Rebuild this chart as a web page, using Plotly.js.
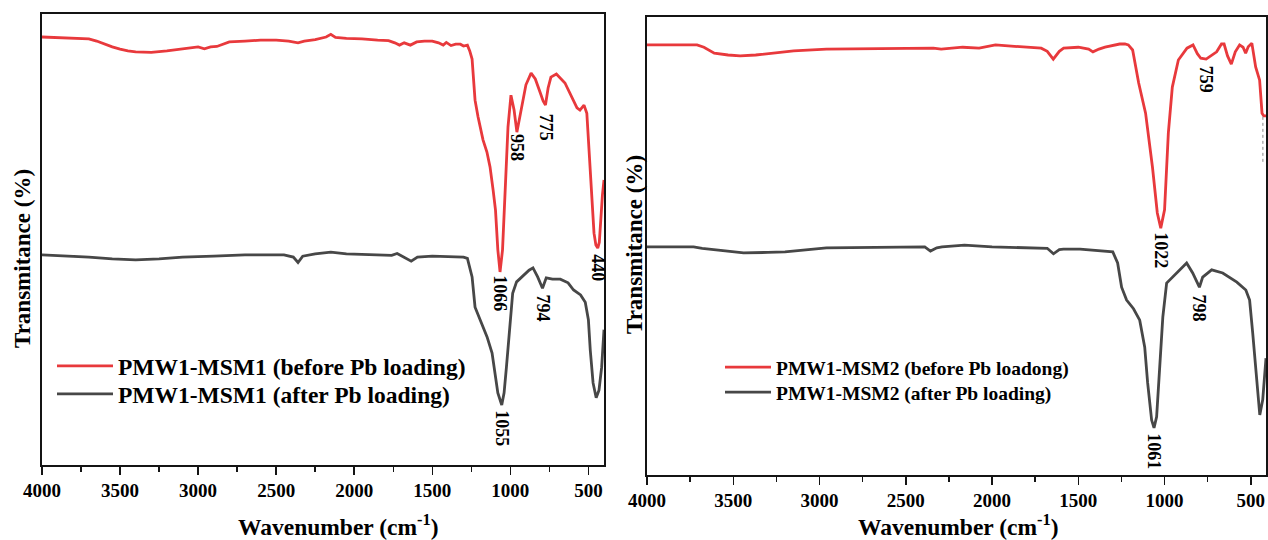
<!DOCTYPE html>
<html>
<head>
<meta charset="utf-8">
<script src="https://cdn.plot.ly/plotly-3.0.1.min.js"></script>
<style>
  html, body { margin: 0; padding: 0; background: #ffffff; }
  #chart { width: 1268px; height: 540px; }
</style>
</head>
<body>
<div id="chart"></div>
<script>
// FTIR spectra, wavenumber (cm-1) vs transmittance (%), two samples before/after Pb loading

// ---- PMW1-MSM1 ----
const wnMsm1Before = [4000, 3900, 3800, 3700, 3650, 3600, 3550, 3500, 3450, 3400, 3300, 3200, 3100, 3000, 2960, 2920, 2880, 2800, 2700, 2600, 2500, 2420, 2360, 2320, 2250, 2180, 2150, 2120, 2050, 1950, 1850, 1780, 1740, 1710, 1680, 1640, 1600, 1550, 1500, 1460, 1430, 1410, 1380, 1350, 1320, 1300, 1275, 1260, 1245, 1235, 1226, 1207, 1175, 1150, 1130, 1110, 1095, 1080, 1066, 1050, 1035, 1015, 996, 976, 958, 940, 925, 900, 867, 840, 810, 790, 775, 758, 740, 705, 650, 605, 573, 554, 528, 510, 496, 477, 464, 452, 440, 430, 419, 410, 400];
const tMsm1Before = [94.9, 94.8, 94.7, 94.5, 94.0, 93.3, 92.7, 92.2, 91.8, 91.6, 91.5, 91.8, 92.2, 92.7, 92.3, 92.7, 92.8, 93.8, 94.0, 94.2, 94.2, 94.0, 93.6, 94.0, 94.3, 94.9, 95.5, 94.8, 94.6, 94.5, 94.2, 94.1, 93.6, 93.1, 93.6, 93.1, 93.8, 94.0, 94.0, 93.6, 93.1, 93.7, 93.0, 93.3, 93.3, 92.9, 93.1, 91.8, 90.0, 85.5, 80.9, 77.2, 72.1, 69.4, 66.1, 60.9, 56.5, 47.7, 42.8, 47.7, 58.8, 74.9, 82.0, 78.7, 73.8, 76.9, 79.8, 84.3, 86.9, 85.6, 82.7, 80.7, 79.8, 83.6, 86.0, 86.7, 84.7, 81.6, 79.2, 78.7, 79.8, 78.0, 69.8, 58.8, 51.4, 48.8, 48.1, 49.4, 55.9, 59.9, 63.2];

const wnMsm1After = [4000, 3850, 3700, 3550, 3400, 3250, 3100, 2900, 2700, 2450, 2390, 2360, 2330, 2250, 2150, 2050, 1900, 1760, 1725, 1680, 1635, 1595, 1500, 1400, 1300, 1275, 1260, 1245, 1226, 1194, 1149, 1117, 1098, 1080, 1055, 1040, 1025, 1005, 985, 960, 910, 880, 855, 825, 794, 770, 730, 680, 630, 595, 550, 520, 500, 488, 470, 450, 432, 415, 400];
const tMsm1After = [46.6, 46.4, 46.1, 45.7, 45.5, 45.7, 46.1, 46.3, 46.6, 46.6, 46.1, 44.9, 46.3, 46.8, 47.2, 46.8, 46.6, 46.5, 46.9, 46.1, 45.2, 46.1, 46.3, 46.2, 46.1, 45.8, 43.5, 41.7, 35.0, 32.2, 28.4, 24.8, 20.4, 16.0, 13.3, 16.0, 21.7, 29.3, 38.1, 40.6, 42.1, 43.2, 43.7, 41.7, 39.2, 41.5, 41.2, 41.2, 40.4, 38.8, 37.7, 36.1, 32.2, 25.5, 18.2, 14.9, 16.6, 21.7, 30.0];

// ---- PMW1-MSM2 ----
const wnMsm2Before = [4000, 3710, 3670, 3610, 3530, 3460, 3370, 3150, 2960, 2600, 2340, 2295, 2170, 2075, 1980, 1870, 1765, 1715, 1680, 1645, 1610, 1585, 1500, 1440, 1415, 1380, 1345, 1260, 1230, 1210, 1185, 1150, 1110, 1070, 1042, 1022, 1000, 978, 955, 920, 870, 835, 810, 790, 759, 735, 715, 698, 670, 655, 635, 613, 590, 565, 545, 530, 515, 500, 494, 472, 449, 435, 425, 412];
const tMsm2Before = [93.9, 93.9, 93.4, 92.1, 91.7, 91.5, 91.7, 92.6, 93.0, 93.2, 93.2, 93.0, 93.4, 93.2, 93.9, 93.6, 93.4, 93.2, 92.5, 90.8, 92.5, 93.2, 93.4, 93.0, 92.4, 93.0, 93.4, 94.1, 94.1, 93.9, 92.8, 85.6, 79.0, 67.2, 57.2, 53.9, 57.9, 74.7, 84.7, 90.6, 93.2, 93.9, 92.0, 91.0, 90.8, 91.5, 92.0, 92.4, 94.1, 94.1, 91.5, 89.7, 92.4, 93.9, 93.4, 92.1, 93.5, 94.1, 94.3, 89.1, 86.2, 79.0, 78.4, 78.4];

const wnMsm2After = [4000, 3730, 3680, 3580, 3440, 3300, 3200, 2960, 2600, 2390, 2357, 2320, 2290, 2160, 2000, 1765, 1680, 1644, 1610, 1586, 1490, 1300, 1272, 1249, 1220, 1180, 1144, 1115, 1098, 1075, 1061, 1046, 1028, 1010, 988, 930, 872, 837, 798, 779, 727, 663, 581, 529, 507, 489, 465, 448, 431, 412];
const tMsm2After = [49.8, 49.8, 49.5, 49.1, 48.5, 48.6, 48.7, 49.6, 49.8, 49.8, 48.9, 49.6, 49.8, 50.2, 49.8, 49.6, 49.5, 48.3, 49.2, 49.3, 49.3, 48.7, 46.3, 41.0, 38.2, 36.3, 33.8, 27.9, 20.1, 12.0, 10.3, 12.7, 23.6, 34.5, 41.9, 44.1, 46.3, 44.1, 41.0, 43.2, 44.8, 44.1, 42.1, 40.4, 38.2, 31.0, 20.1, 13.1, 16.4, 25.5];

// short dotted guide at the right end of the MSM2 panel
const wnGuide = [430, 430];
const tGuide = [78.2, 68.3];

// peak labels: [wavenumber, label y position]
const peaksMsm1 = [
  { wn: 958, y: 70.3 }, { wn: 775, y: 74.9 }, { wn: 1066, y: 38.1 },
  { wn: 440, y: 43.7 }, { wn: 794, y: 34.8 }, { wn: 1055, y: 8.2 }
];
const peaksMsm2 = [
  { wn: 759, y: 86.5 }, { wn: 1022, y: 49.1 }, { wn: 798, y: 36.5 }, { wn: 1061, y: 5.2 }
];

const tickVals = [4000, 3500, 3000, 2500, 2000, 1500, 1000, 500];
const tickText = ['4000', '3500', '3000', '2500', '2000', '1500', '1000', '500'];

const RED = '#e8393c';
const GRAY = '#474747';
const INK = '#141414';
const SERIF = 'Liberation Serif, Times New Roman, serif';

const W = 1268, H = 540;
const px = v => v / W;
const py = v => 1 - v / H;

const traces = [
  { x: wnMsm1Before, y: tMsm1Before, xaxis: 'x', yaxis: 'y', mode: 'lines',
    name: 'PMW1-MSM1 (before Pb loading)', line: { color: RED, width: 2.8 }, legend: 'legend' },
  { x: wnMsm1After, y: tMsm1After, xaxis: 'x', yaxis: 'y', mode: 'lines',
    name: 'PMW1-MSM1 (after Pb loading)', line: { color: GRAY, width: 2.8 }, legend: 'legend3' },
  { x: wnMsm2Before, y: tMsm2Before, xaxis: 'x2', yaxis: 'y2', mode: 'lines',
    name: 'PMW1-MSM2 (before Pb loadong)', line: { color: RED, width: 2.8 }, legend: 'legend2' },
  { x: wnMsm2After, y: tMsm2After, xaxis: 'x2', yaxis: 'y2', mode: 'lines',
    name: 'PMW1-MSM2 (after Pb loading)', line: { color: GRAY, width: 2.8 }, legend: 'legend4' },
  { x: wnGuide, y: tGuide, xaxis: 'x2', yaxis: 'y2', mode: 'lines', showlegend: false,
    line: { color: '#888888', width: 1, dash: 'dot' }, hoverinfo: 'skip' }
];

function xAxis(domain, range, anchor) {
  return {
    domain: domain, range: range, anchor: anchor, autorange: false,
    showline: true, mirror: true, linecolor: INK, linewidth: 1.6,
    ticks: 'outside', ticklen: 8, tickwidth: 1.5, tickcolor: INK,
    tickmode: 'array', tickvals: tickVals, ticktext: tickText,
    minor: { tickmode: 'linear', tick0: 0, dtick: 250, ticks: 'outside', ticklen: 5, tickwidth: 1.5, tickcolor: INK, showgrid: false },
    showgrid: false, zeroline: false,
    tickfont: { family: SERIF, size: 19, color: '#000', weight: 'bold' }
  };
}
function yAxis(domain, anchor) {
  return {
    domain: domain, range: [0, 100], anchor: anchor, autorange: false,
    showline: true, mirror: true, linecolor: INK, linewidth: 1.6,
    ticks: '', showticklabels: false, showgrid: false, zeroline: false
  };
}

const annotations = [];
peaksMsm1.forEach(p => annotations.push({
  x: p.wn, y: p.y, xref: 'x', yref: 'y', text: String(p.wn), showarrow: false,
  textangle: 90, xanchor: 'center', yanchor: 'middle',
  font: { family: SERIF, size: 18, color: '#000', weight: 'bold' }
}));
peaksMsm2.forEach(p => annotations.push({
  x: p.wn, y: p.y, xref: 'x2', yref: 'y2', text: String(p.wn), showarrow: false,
  textangle: 90, xanchor: 'center', yanchor: 'middle',
  font: { family: SERIF, size: 18, color: '#000', weight: 'bold' }
}));

// axis titles
const titleFont = { family: SERIF, size: 23.5, color: '#000', weight: 'bold' };
const yTitleFont = { family: SERIF, size: 23, color: '#000', weight: 'bold' };
annotations.push(
  { xref: 'paper', yref: 'paper', x: px(338), y: py(525), text: 'Wavenumber (cm<sup>-1</sup>)',
    showarrow: false, xanchor: 'center', yanchor: 'middle', font: titleFont },
  { xref: 'paper', yref: 'paper', x: px(958), y: py(525), text: 'Wavenumber (cm<sup>-1</sup>)',
    showarrow: false, xanchor: 'center', yanchor: 'middle', font: titleFont },
  { xref: 'paper', yref: 'paper', x: px(22), y: py(259), text: 'Transmitance (%)',
    showarrow: false, textangle: -90, xanchor: 'center', yanchor: 'middle', font: yTitleFont },
  { xref: 'paper', yref: 'paper', x: px(634), y: py(245), text: 'Transmitance (%)',
    showarrow: false, textangle: -90, xanchor: 'center', yanchor: 'middle', font: yTitleFont }
);

function legendBox(xPx, topPx, size, itemwidth) {
  return {
    x: px(xPx), y: py(topPx), xanchor: 'left', yanchor: 'top',
    bgcolor: 'rgba(0,0,0,0)', borderwidth: 0, itemwidth: itemwidth, tracegroupgap: 0,
    font: { family: SERIF, size: size, color: '#000', weight: 'bold' }
  };
}

const layout = {
  width: W, height: H,
  margin: { l: 0, r: 0, t: 0, b: 0 },
  paper_bgcolor: '#ffffff', plot_bgcolor: '#ffffff',
  xaxis: xAxis([px(42), px(604)], [4000, 400], 'y'),
  yaxis: yAxis([py(465), py(14)], 'x'),
  xaxis2: xAxis([px(647), px(1266)], [4000, 412], 'y2'),
  yaxis2: yAxis([py(475), py(17)], 'x2'),
  legend: legendBox(52, 344, 23.5, 56),
  legend3: legendBox(52, 372, 23.5, 56),
  legend2: legendBox(720, 348, 19.5, 46),
  legend4: legendBox(720, 373, 19.5, 46),
  annotations: annotations
};

Plotly.newPlot('chart', traces, layout, { displayModeBar: false, staticPlot: true });
</script>
</body>
</html>
